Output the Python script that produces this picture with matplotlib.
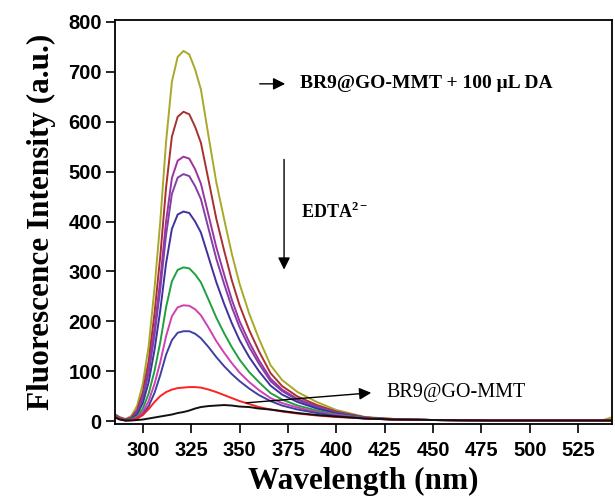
import numpy as np
import matplotlib
matplotlib.use("Agg")
import matplotlib.pyplot as plt

# wavelength grid (nm) shared by all spectra
wl = [285, 288, 291, 294, 297, 300, 303, 306, 309, 312, 315, 318, 321, 324, 327, 330,
      334, 338, 342, 346, 350, 355, 360, 366, 372, 380, 390, 400, 415, 430, 450, 480,
      510, 538, 543]

# intensities (a.u.), highest (BR9@GO-MMT + DA) to lowest (BR9@GO-MMT)
olive = [15, 8, 4, 10, 30, 75, 150, 265, 400, 560, 680, 730, 742, 735, 705, 665,
         570, 478, 405, 335, 275, 215, 165, 112, 82, 58, 38, 22, 8, 4, 2, 1, 1, 2, 8]
darkred = [14, 7, 3, 7, 22, 58, 120, 215, 330, 468, 570, 610, 620, 615, 590, 558,
           482, 405, 342, 282, 232, 182, 140, 96, 70, 49, 32, 19, 7, 4, 2, 1, 1, 1, 1]
purple = [13, 6, 3, 6, 19, 50, 103, 185, 283, 400, 487, 522, 530, 526, 505, 476,
          412, 348, 294, 243, 200, 158, 122, 85, 63, 44, 29, 17, 7, 3, 2, 1, 1, 1, 1]
violet = [13, 6, 3, 5, 17, 46, 96, 172, 264, 373, 455, 488, 495, 491, 471, 445,
          385, 325, 275, 228, 188, 148, 115, 80, 60, 42, 28, 17, 7, 3, 2, 1, 1, 1, 1]
blue = [12, 5, 2, 4, 13, 36, 78, 142, 222, 316, 385, 414, 420, 417, 400, 378,
        328, 278, 235, 196, 162, 128, 100, 71, 53, 38, 25, 15, 6, 3, 2, 1, 1, 1, 1]
green = [12, 5, 2, 3, 9, 25, 55, 100, 158, 228, 280, 303, 308, 306, 294, 278,
         243, 207, 176, 148, 123, 98, 78, 56, 43, 31, 21, 13, 6, 3, 2, 1, 1, 1, 1]
magenta = [11, 5, 2, 2, 7, 18, 40, 74, 118, 170, 210, 228, 232, 231, 224, 212,
           187, 160, 137, 116, 97, 78, 62, 46, 36, 27, 18, 12, 5, 3, 2, 1, 1, 1, 1]
navy = [11, 4, 1, 2, 5, 13, 30, 56, 92, 133, 162, 177, 180, 180, 175, 166,
        148, 128, 110, 94, 80, 65, 52, 40, 31, 23, 16, 10, 5, 3, 2, 1, 1, 1, 1]
red = [10, 4, 1, 2, 5, 12, 24, 38, 50, 58, 63, 66, 67, 68, 68, 67,
       63, 58, 52, 46, 40, 34, 28, 23, 19, 15, 11, 8, 5, 3, 2, 1, 1, 1, 1]
black = [8, 3, 1, 1, 2, 3, 5, 7, 9, 11, 13, 16, 18, 21, 25, 28,
         30, 31, 32, 31, 29, 28, 25, 23, 20, 16, 12, 9, 5, 3, 2, 1, 1, 1, 1]

series = [olive, darkred, purple, violet, blue, green, magenta, navy, red, black]
colors = ["#a8a82a", "#a83030", "#a032a0", "#8040a8", "#40329c", "#20a040",
          "#d040b0", "#4040a4", "#ff2020", "#111111"]

plt.rcParams["mathtext.fontset"] = "custom"
plt.rcParams["mathtext.bf"] = "Liberation Serif:bold"
plt.rcParams["mathtext.rm"] = "Liberation Serif:bold"

fig = plt.figure(figsize=(6.15, 5.0), dpi=100)
ax = fig.add_axes([0.187, 0.152, 0.808, 0.808])

for ys, c in zip(series, colors):
    ax.plot(wl, ys, color=c, lw=1.4)

ax.set_xlim(285.6, 542.5)
ax.set_ylim(-6, 804)
ax.set_xticks(np.arange(300, 526, 25))
ax.set_yticks(np.arange(0, 801, 100))
ax.tick_params(direction="out", length=6.5, width=1.2, labelsize=14.5)
ax.tick_params(axis="x", pad=6)
ax.tick_params(axis="y", pad=3)
for lab in ax.get_xticklabels() + ax.get_yticklabels():
    lab.set_fontfamily("Liberation Sans")
    lab.set_fontweight("bold")
for sp in ax.spines.values():
    sp.set_linewidth(1.3)

ax.set_xlabel("Wavelength (nm)", fontfamily="Liberation Serif", fontweight="bold",
              fontsize=22.5, labelpad=5)
ax.set_ylabel("Fluorescence Intensity (a.u.)", fontfamily="Liberation Serif",
              fontweight="bold", fontsize=22.5, labelpad=9)

arrow = dict(arrowstyle="-|>", color="black", lw=1.0, mutation_scale=18)
ax.annotate("", xy=(375, 676), xytext=(359, 676), arrowprops=arrow)
ax.text(381, 676, "BR9@GO-MMT + 100 μL DA", fontfamily="Liberation Serif",
        fontweight="bold", fontsize=14, va="center", ha="left")

ax.annotate("", xy=(373, 298), xytext=(373, 530), arrowprops=arrow)
ax.text(382, 420, "EDTA$^{2-}$", fontfamily="Liberation Serif", fontweight="bold",
        fontsize=13, va="center", ha="left")

ax.annotate("", xy=(419.5, 57), xytext=(352, 36), arrowprops=arrow)
ax.text(426, 58, "BR9@GO-MMT", fontfamily="Liberation Serif",
        fontsize=14.5, va="center", ha="left")

fig.savefig("out.png", dpi=100)
